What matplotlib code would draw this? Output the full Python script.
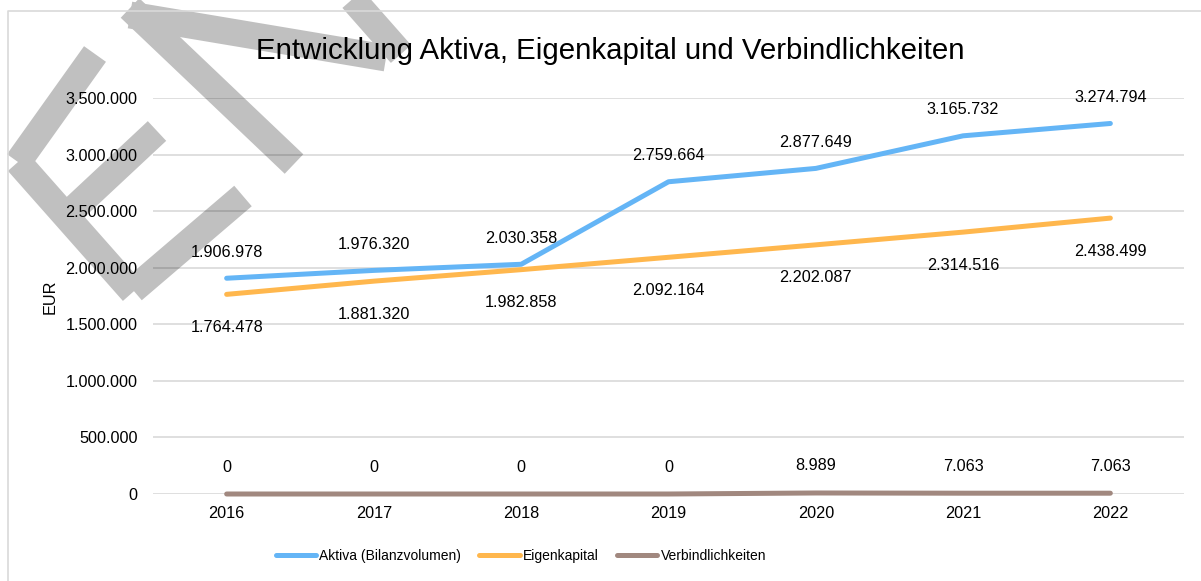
import matplotlib
matplotlib.use("Agg")
import matplotlib.pyplot as plt
from matplotlib.lines import Line2D
from matplotlib.ticker import FuncFormatter

plt.rcParams['font.family'] = ['Liberation Sans', 'DejaVu Sans']

years = ['2016', '2017', '2018', '2019', '2020', '2021', '2022']
aktiva = [1906978, 1976320, 2030358, 2759664, 2877649, 3165732, 3274794]
eigenkapital = [1764478, 1881320, 1982858, 2092164, 2202087, 2314516, 2438499]
verbindlichkeiten = [0, 0, 0, 0, 8989, 7063, 7063]

series = [
    ('Aktiva (Bilanzvolumen)', aktiva, '#64b5f6', 26),
    ('Eigenkapital', eigenkapital, '#ffb74d', -33),
    ('Verbindlichkeiten', verbindlichkeiten, '#a1887f', 27),
]

W, H = 1201, 581
fig = plt.figure(figsize=(W / 100, H / 100), dpi=100)


def px(x, y):
    return x / W, 1 - y / H


# watermark strokes (pixel coords)
strokes = [
    [(18, 162), (133, 292)],
    [(18, 162), (95, 54)],
    [(66, 216), (157, 131)],
    [(133, 290), (243, 196)],
    [(130, 8), (294, 164)],
    [(130, 15), (386, 58)],
    [(349, -5), (401, 54)],
]
for s in strokes:
    xs, ys = zip(*[px(*p) for p in s])
    fig.add_artist(Line2D(xs, ys, color='#c0c0c0', lw=19.4,
                          solid_capstyle='butt', zorder=0))

# chart frame
fig.add_artist(Line2D(*zip(px(8, 581), px(8, 11), px(1201, 11)),
                      color='#d9d9d9', lw=1.2, zorder=1))

ax = fig.add_axes([153 / W, 1 - 494 / H, 1031 / W, 396 / H])
ax.set_facecolor('none')

fs = 11.7
x = range(len(years))
for name, vals, col, off in series:
    ax.plot(x, vals, color=col, lw=3.6, solid_capstyle='round', label=name,
            zorder=3, clip_on=False)
    for xi, v in zip(x, vals):
        lab = f'{v:,}'.replace(',', '.')
        ax.annotate(lab, (xi, v), xytext=(0, off), textcoords='offset pixels',
                    ha='center', va='center', fontsize=fs, color='#000000')

ax.set_xlim(-0.5, len(years) - 0.5)
ax.set_ylim(0, 3500000)
ax.set_yticks(range(0, 3500001, 500000))
ax.yaxis.set_major_formatter(FuncFormatter(lambda v, p: f'{int(v):,}'.replace(',', '.')))
ax.set_xticks(list(x))
ax.set_xticklabels(years)
ax.tick_params(axis='both', length=0, labelsize=fs, colors='#000000')
ax.tick_params(axis='y', pad=11)
ax.tick_params(axis='x', pad=9)
ax.grid(axis='y', color='#000000', alpha=0.15, lw=1.2)
ax.set_axisbelow(True)
for sp in ax.spines.values():
    sp.set_visible(False)

fig.text(50 / W, 1 - 297 / H, 'EUR', rotation=90, ha='center', va='center', fontsize=fs)
fig.text(610 / W, 1 - 51 / H, 'Entwicklung Aktiva, Eigenkapital und Verbindlichkeiten',
         ha='center', va='center', fontsize=21.2)

fig.legend(loc='center', bbox_to_anchor=px(521, 556), ncol=3, frameon=False,
           fontsize=10, handlelength=2.9, handletextpad=0.25, columnspacing=1.3)

fig.savefig('out.png', dpi=100)
